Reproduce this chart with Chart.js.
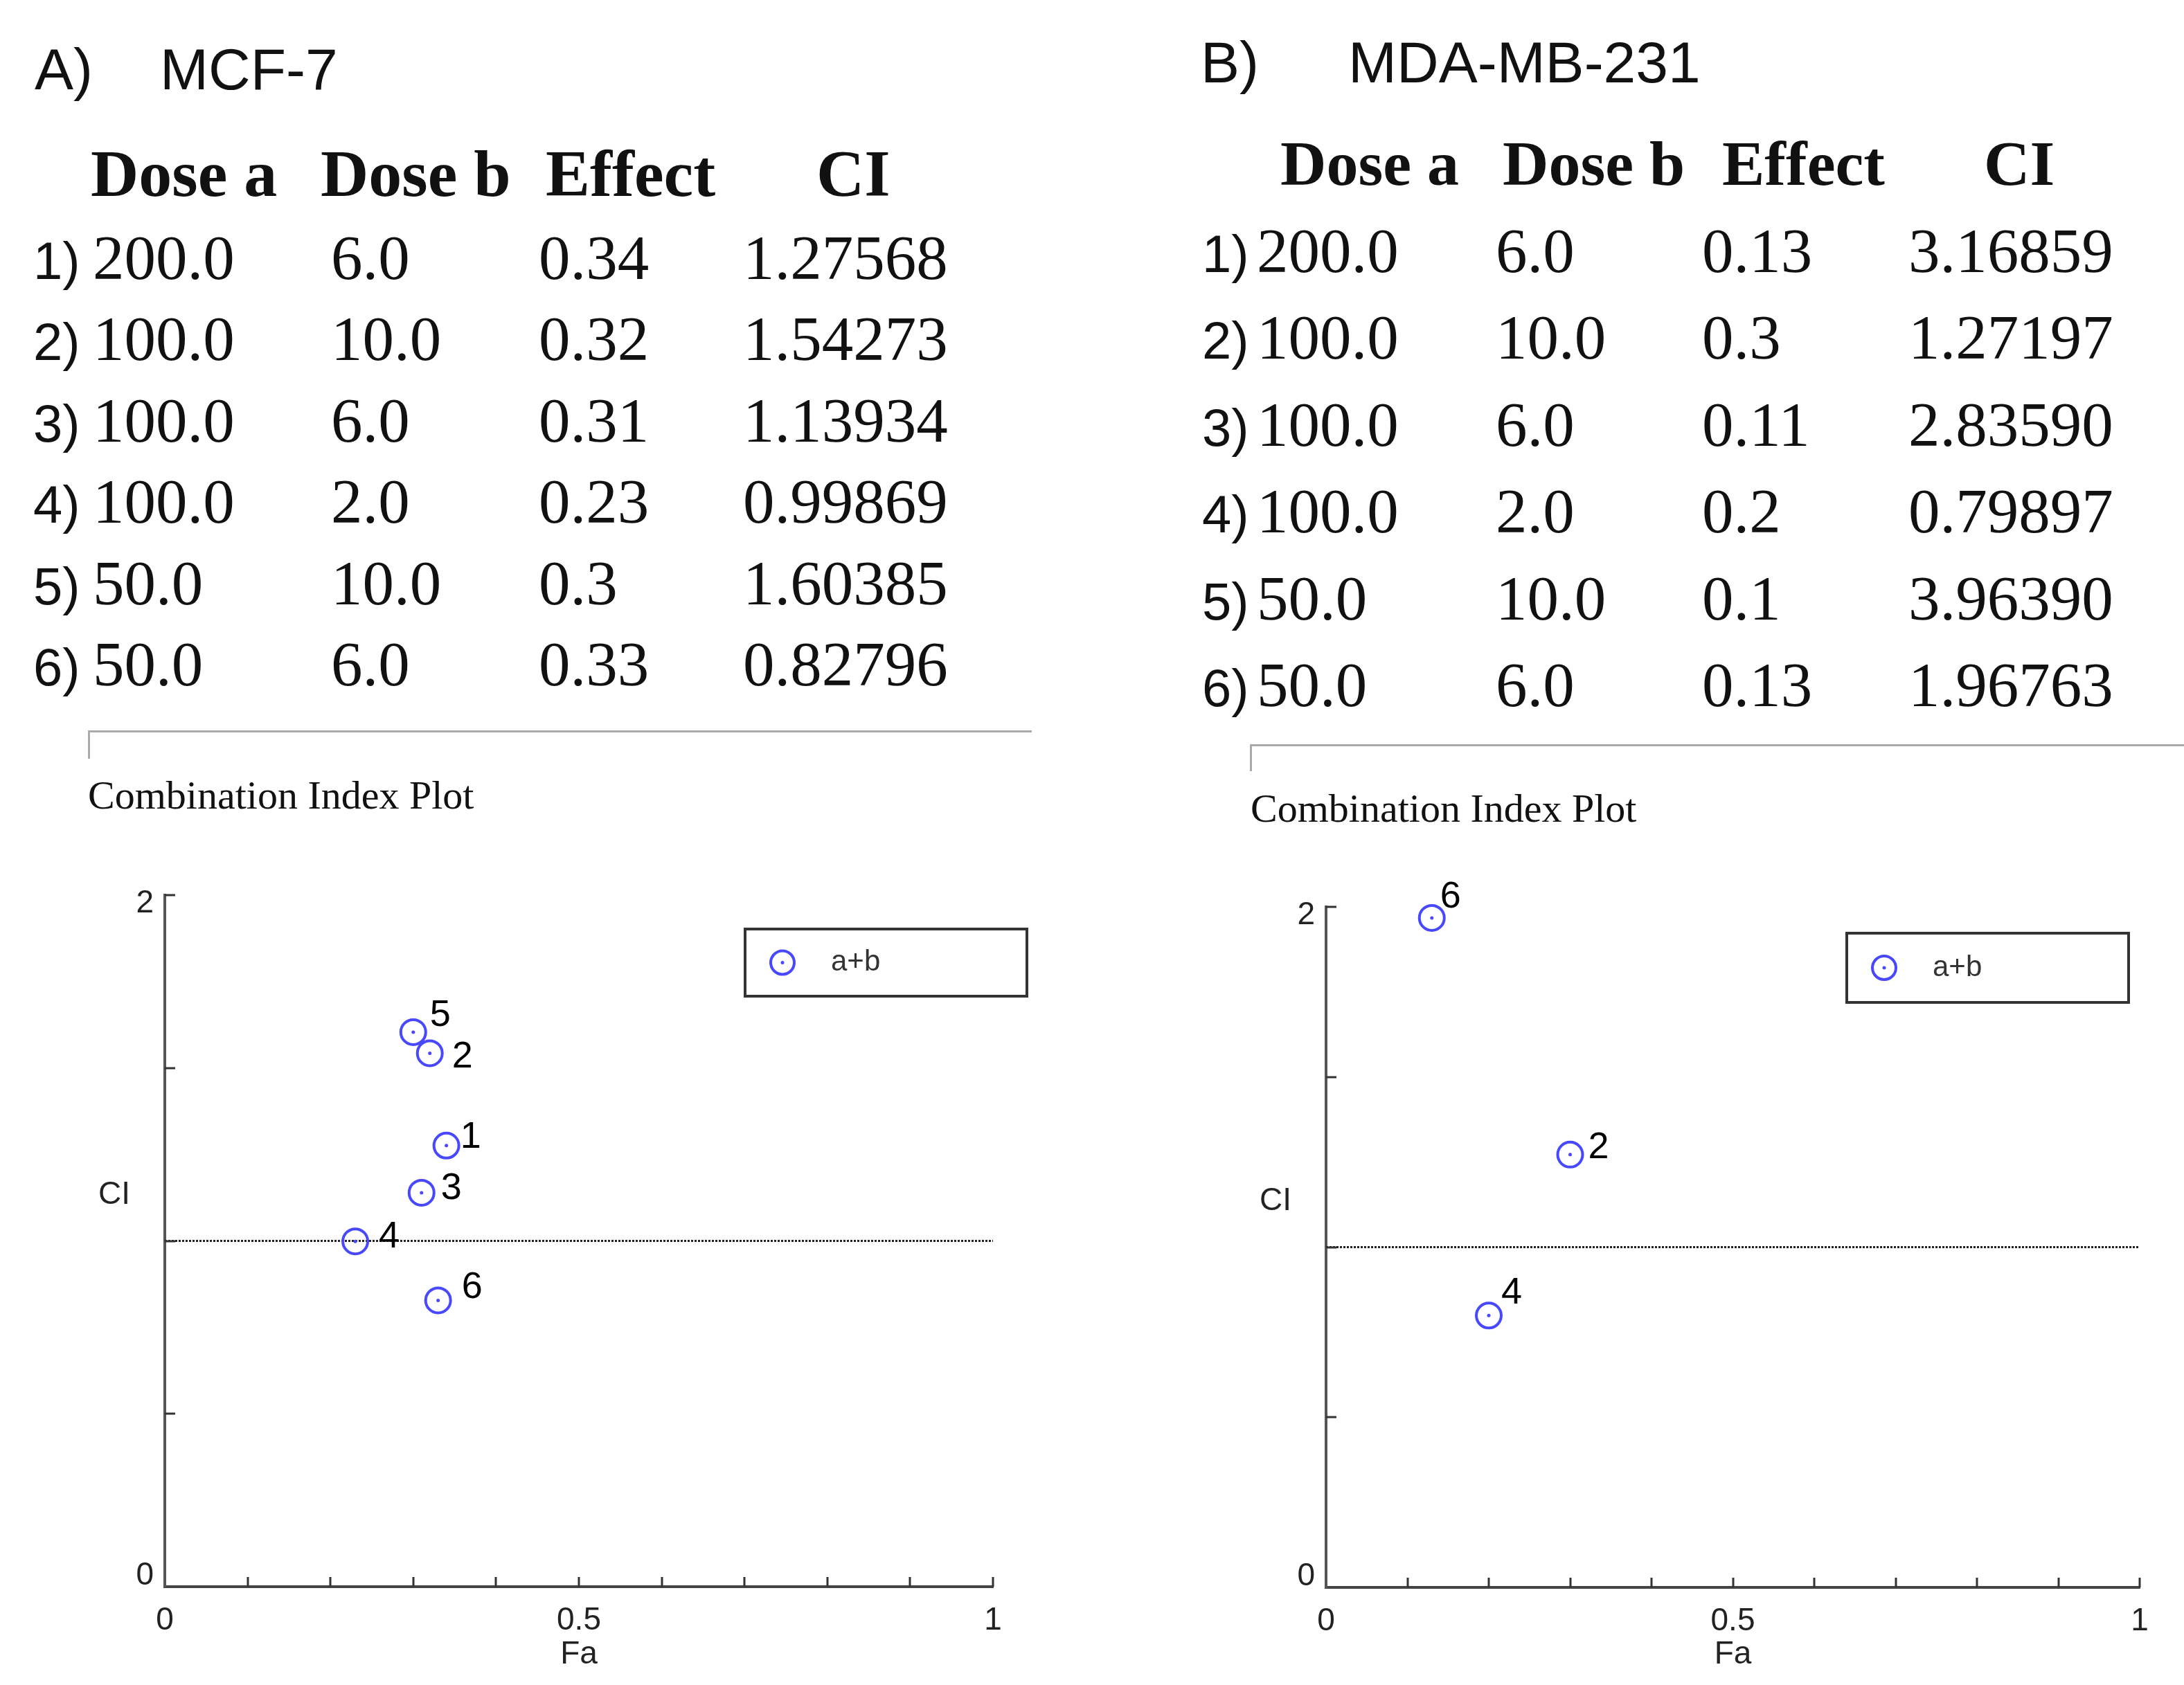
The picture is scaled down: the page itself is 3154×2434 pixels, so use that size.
<!DOCTYPE html>
<html>
<head>
<meta charset="utf-8">
<script src="https://cdn.jsdelivr.net/npm/chart.js@4/dist/chart.umd.min.js"></script>
<style>
  html, body { margin: 0; padding: 0; background: #fff; }
  #page { position: relative; width: 3154px; height: 2434px; overflow: hidden; background: #fff; }
  canvas { position: absolute; }
  .rule { position: absolute; border-top: 3px solid #aaa; border-left: 3px solid #aaa; }
</style>
</head>
<body>
<div id="page">
  <div class="rule" style="left:127px;top:1055px;width:1360px;height:38px"></div>
  <div class="rule" style="left:1805px;top:1075px;width:1349px;height:36px"></div>
  <canvas id="ciA" width="1577" height="1234" style="left:0;top:1200px"></canvas>
  <canvas id="ciB" width="1577" height="1234" style="left:1577px;top:1200px"></canvas>
</div>
<script>
// table columns and CI plot values
const rowNo = [1, 2, 3, 4, 5, 6];
const tableHeaders = ["Dose a", "Dose b", "Effect", "CI"];

const mcfDoseA = [200.0, 100.0, 100.0, 100.0, 50.0, 50.0];
const mcfDoseB = [6.0, 10.0, 6.0, 2.0, 10.0, 6.0];
const mcfEffect = [0.34, 0.32, 0.31, 0.23, 0.3, 0.33];
const mcfCI = [1.27568, 1.54273, 1.13934, 0.99869, 1.60385, 0.82796];

const mdaDoseA = [200.0, 100.0, 100.0, 100.0, 50.0, 50.0];
const mdaDoseB = [6.0, 10.0, 6.0, 2.0, 10.0, 6.0];
const mdaEffect = [0.13, 0.3, 0.11, 0.2, 0.1, 0.13];
const mdaCI = [3.16859, 1.27197, 2.83590, 0.79897, 3.96390, 1.96763];

const xTickLabels = [0, 0.5, 1];
const yTickLabels = [0, 2];
const additiveCI = 1;
const seriesName = "a+b";

const SERIF = '"Liberation Serif", "Times New Roman", serif';
const SANS = '"Liberation Sans", Arial, sans-serif';
const BLUE = "#4848ff";

const page = document.getElementById("page");

function place(text, x, baseline, size, family, weight) {
  const asc = family === SERIF ? 0.8375 : 0.8465;
  const el = document.createElement("div");
  el.textContent = text;
  el.style.cssText = "position:absolute;white-space:nowrap;color:#111;" +
    "left:" + x + "px;top:" + (baseline - asc * size) + "px;" +
    "font:" + (weight || "normal") + " " + size + "px/" + size + "px " + family;
  page.appendChild(el);
}

function drawTable(t) {
  place(t.tag, t.tagX, t.titleBase, 84, SANS);
  place(t.name, t.nameX, t.titleBase, 84, SANS);
  tableHeaders.forEach((h, i) => place(h, t.headX[i], t.headBase, t.headSize, SERIF, "bold"));
  rowNo.forEach((n, i) => {
    const y = t.rowBase + i * t.rowStep;
    place(n + ")", t.numX, y, 76, SANS);
    place(t.doseA[i].toFixed(1), t.colX[0], y, t.size, SERIF);
    place(t.doseB[i].toFixed(1), t.colX[1], y, t.size, SERIF);
    place(String(t.effect[i]), t.colX[2], y, t.size, SERIF);
    place(t.ci[i].toFixed(5), t.colX[3], y, t.size, SERIF);
  });
  place("Combination Index Plot", t.plotTitleX, t.plotTitleBase, 58, SERIF);
}

drawTable({
  tag: "A)", tagX: 50, name: "MCF-7", nameX: 231, titleBase: 129,
  headX: [131, 463, 788, 1179], headBase: 283, headSize: 96,
  numX: 48, colX: [134, 478, 778, 1073], rowBase: 403, rowStep: 117.5, size: 91,
  doseA: mcfDoseA, doseB: mcfDoseB, effect: mcfEffect, ci: mcfCI,
  plotTitleX: 127, plotTitleBase: 1169
});
drawTable({
  tag: "B)", tagX: 1734, name: "MDA-MB-231", nameX: 1947, titleBase: 119,
  headX: [1849, 2170, 2487, 2865], headBase: 267, headSize: 92,
  numX: 1736, colX: [1815, 2160, 2458, 2756], rowBase: 393, rowStep: 125.5, size: 91,
  doseA: mdaDoseA, doseB: mdaDoseB, effect: mdaEffect, ci: mdaCI,
  plotTitleX: 1806, plotTitleBase: 1188
});

// inward tick marks, the horizontal "CI" label, point numbers and the boxed legend
const ciDecor = {
  id: "ciDecor",
  afterDraw(chart, args, opts) {
    const ctx = chart.ctx;
    const area = chart.chartArea;
    const xs = chart.scales.x, ys = chart.scales.y;
    ctx.save();
    ctx.strokeStyle = "#333";
    ctx.lineWidth = 3;
    ctx.beginPath();
    xs.ticks.forEach(t => {
      if (t.value <= 0) return;
      const px = Math.round(xs.getPixelForValue(t.value));
      ctx.moveTo(px, area.bottom);
      ctx.lineTo(px, area.bottom - 14);
    });
    ys.ticks.forEach(t => {
      if (t.value <= 0) return;
      const py = Math.round(ys.getPixelForValue(t.value));
      ctx.moveTo(area.left, py);
      ctx.lineTo(area.left + 15, py);
    });
    ctx.stroke();

    ctx.fillStyle = "#222";
    ctx.font = "46px " + SANS;
    ctx.textBaseline = "middle";
    ctx.textAlign = "left";
    ctx.fillText("CI", area.left - 96, (area.top + area.bottom) / 2 - 66);

    // point numbers
    const meta = chart.getDatasetMeta(0);
    ctx.fillStyle = "#000";
    ctx.font = "54px " + SANS;
    meta.data.forEach((pt, i) => {
      const v = meta._parsed[i];
      if (v.y > ys.max || v.y < ys.min) return;
      const nudge = opts.nudge[i + 1] || [24, -10];
      ctx.fillText(String(rowNo[i]), pt.x + nudge[0], pt.y + nudge[1]);
    });

    // legend box
    const b = opts.box;
    const bx = area.left + b.dx, by = area.top + b.dy;
    ctx.strokeStyle = "#333";
    ctx.lineWidth = 4;
    ctx.strokeRect(bx, by, b.w, b.h);
    ctx.strokeStyle = BLUE;
    ctx.lineWidth = 4;
    ctx.beginPath();
    ctx.arc(bx + 54, by + b.h / 2, 17, 0, Math.PI * 2);
    ctx.stroke();
    ctx.fillStyle = BLUE;
    ctx.beginPath();
    ctx.arc(bx + 54, by + b.h / 2, 2.5, 0, Math.PI * 2);
    ctx.fill();
    ctx.fillStyle = "#333";
    ctx.font = "42px " + SANS;
    ctx.fillText(seriesName, bx + 124, by + b.h / 2);
    ctx.restore();
  }
};

function makePlot(id, effect, ci, pad, yWidth, xHeight, box, nudge) {
  const pts = effect.map((e, i) => ({ x: e, y: ci[i] }));
  new Chart(document.getElementById(id), {
    type: "scatter",
    data: {
      datasets: [
        {
          label: seriesName,
          data: pts,
          pointStyle: "circle",
          pointRadius: 18,
          pointBorderWidth: 4,
          borderColor: BLUE,
          backgroundColor: "rgba(0,0,0,0)",
          clip: 26
        },
        {
          label: "centre",
          data: pts,
          pointRadius: 2.5,
          pointBorderWidth: 0,
          backgroundColor: BLUE,
          clip: 26
        },
        {
          label: "CI = 1",
          data: [{ x: 0, y: additiveCI }, { x: 1, y: additiveCI }],
          showLine: true,
          pointRadius: 0,
          borderColor: "#222",
          borderWidth: 3,
          borderDash: [3, 2]
        }
      ]
    },
    options: {
      responsive: false,
      animation: false,
      events: [],
      layout: { padding: pad },
      plugins: {
        legend: { display: false },
        tooltip: { enabled: false },
        ciDecor: { box: box, nudge: nudge }
      },
      scales: {
        x: {
          type: "linear",
          min: 0,
          max: 1,
          afterFit: s => { s.height = xHeight; },
          grid: { display: false, drawTicks: false },
          border: { display: true, color: "#444", width: 4 },
          ticks: {
            stepSize: 0.1,
            padding: 22,
            maxRotation: 0,
            autoSkip: false,
            color: "#222",
            font: { family: SANS, size: 46 },
            callback: v => xTickLabels.some(l => Math.abs(l - v) < 1e-9) ? String(v) : ""
          },
          title: {
            display: true,
            text: "Fa",
            color: "#222",
            font: { family: SANS, size: 46 },
            padding: { top: 0, bottom: 16 }
          }
        },
        y: {
          type: "linear",
          min: 0,
          max: 2,
          afterFit: s => { s.width = yWidth; },
          grid: { display: false, drawTicks: false },
          border: { display: true, color: "#555", width: 4 },
          ticks: {
            stepSize: 0.5,
            padding: 16,
            labelOffset: 12,
            autoSkip: false,
            color: "#222",
            font: { family: SANS, size: 46 },
            // the bottom label sits above its tick, as in the original plot
            callback: v => {
              if (!yTickLabels.some(l => Math.abs(l - v) < 1e-9)) return "";
              return v === 0 ? [String(v), ""] : String(v);
            }
          }
        }
      }
    },
    plugins: [ciDecor]
  });
}

makePlot("ciA", mcfEffect, mcfCI,
  { left: 0, top: 93, right: 143, bottom: 0 }, 238, 142,
  { dx: 838, dy: 49, w: 407, h: 97 },
  { 1: [20, -12], 2: [32, 6], 3: [28, -6], 4: [34, -6], 5: [24, -24], 6: [34, -18] });

makePlot("ciB", mdaEffect, mdaCI,
  { left: 0, top: 110, right: 64, bottom: 0 }, 338, 141,
  { dx: 752, dy: 38, w: 407, h: 100 },
  { 2: [26, -10], 4: [18, -32], 6: [12, -30] });
</script>
</body>
</html>
